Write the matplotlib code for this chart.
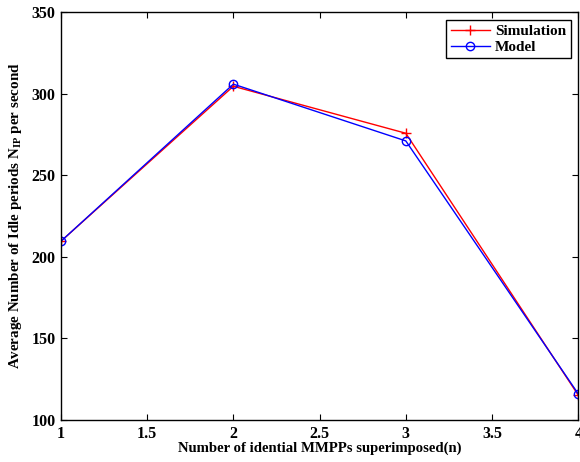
import matplotlib
matplotlib.use("Agg")
import matplotlib.pyplot as plt

plt.rcParams["font.family"] = "Liberation Serif"
plt.rcParams["font.weight"] = "bold"
plt.rcParams["mathtext.fontset"] = "custom"
plt.rcParams["mathtext.rm"] = "Liberation Serif:bold"
plt.rcParams["mathtext.it"] = "Liberation Serif:bold"
plt.rcParams["mathtext.bf"] = "Liberation Serif:bold"

n_sources = [1, 2, 3, 4]
simulation = [209.5, 304.5, 275.7, 115.2]
model = [209.5, 305.8, 271.0, 116.0]

fig = plt.figure(figsize=(5.8, 4.62), dpi=100)
ax = fig.add_axes([0.105, 0.091, 0.892, 0.883])

ax.plot(n_sources, simulation, color="red", marker="+", markersize=7,
        markeredgewidth=1.0, linewidth=1.0, label="Simulation")
ax.plot(n_sources, model, color="blue", marker="o", markersize=6,
        markerfacecolor="none", markeredgewidth=1.0, linewidth=1.0,
        label="Model")

ax.set_xlim(1, 4)
ax.set_ylim(100, 350)
ax.set_xticks([1, 1.5, 2, 2.5, 3, 3.5, 4])
ax.set_xticklabels(["1", "1.5", "2", "2.5", "3", "3.5", "4"])
ax.set_yticks([100, 150, 200, 250, 300, 350])
ax.tick_params(direction="in", length=4, width=0.8, labelsize=11.5,
               top=True, right=True, pad=4)
for s in ax.spines.values():
    s.set_linewidth(1.0)

ax.set_xlabel("Number of idential MMPPs superimposed(n)", fontsize=10.6,
              fontweight="bold", labelpad=0)
ax.set_ylabel("Average Number of Idle periods N$_{\\mathrm{IP}}$ per second",
              fontsize=10.8, fontweight="bold", labelpad=5)

leg = ax.legend(loc="upper right", fontsize=11, frameon=True, fancybox=False,
                edgecolor="black", borderaxespad=0.5, handlelength=2.6,
                borderpad=0.3, labelspacing=0.15, handletextpad=0.3)
leg.get_frame().set_linewidth(1.0)
leg.get_frame().set_alpha(1.0)

fig.savefig("out.png", dpi=100, facecolor="white")
